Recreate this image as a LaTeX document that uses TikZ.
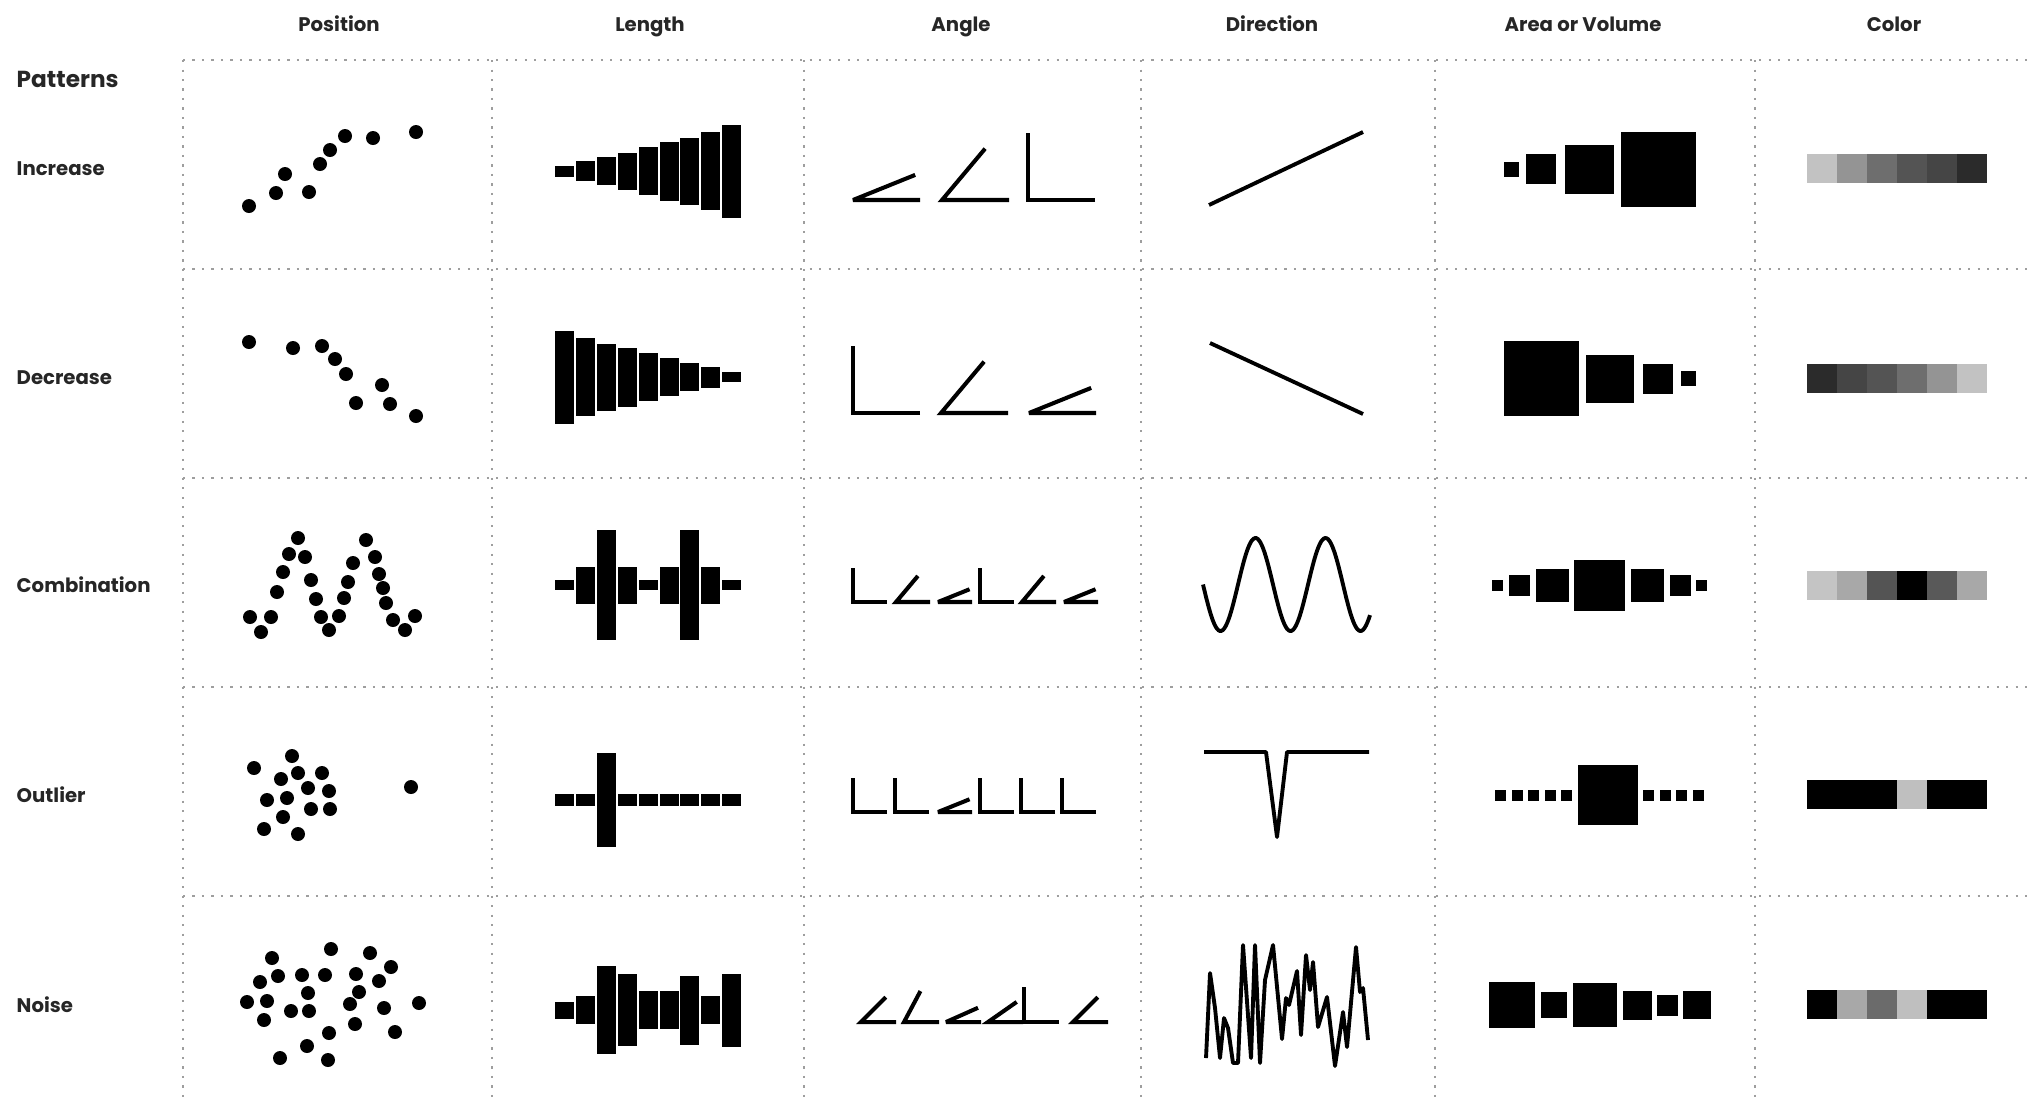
\documentclass[tikz,border=0pt]{standalone}
\usepackage{fontspec}
\setmainfont{Poppins}
\usepackage{xcolor}
\usepackage{tikz}
\usetikzlibrary{positioning}

\begin{document}
\begin{tikzpicture}[
  x=0.01cm, y=-0.01cm,
  head/.style={
    font=\bfseries\fontsize{5.6}{7}\selectfont,
    text=black!85,
    anchor=base,
    inner sep=0pt
  },
  rowlabel/.style={
    font=\bfseries\fontsize{5.6}{7}\selectfont,
    text=black!85,
    anchor=west,
    inner sep=0pt
  },
  gridline/.style={draw=black!38, line width=0.45pt, dash pattern=on 0.6pt off 2.1pt},
  angline/.style={line width=1.15pt, miter limit=4},
  dirline/.style={line width=1.1pt}
]
\useasboundingbox (0,0) rectangle (2031,1102);

% dotted grid
\foreach \gy in {60,269,478,687,896}
  \draw[gridline] (183,\gy) -- (2031,\gy);
\foreach \gx in {183,492,804,1141,1435,1755}
  \draw[gridline] (\gx,60) -- (\gx,1102);

% column heads
\node[head] (hpos) at (339,31) {Position};
\node[head] (hlen) at (650,31) {Length};
\node[head] (hang) at (961,31) {Angle};
\node[head] (hdir) at (1272,31) {Direction};
\node[head] (harea) at (1583,31) {Area or Volume};
\node[head] (hcol) at (1894,31) {Color};

% row labels
\node[rowlabel, font=\bfseries\fontsize{6.6}{8}\selectfont] (patterns) at (16,79) {Patterns};
\node[rowlabel] (rinc) at (16,169) {Increase};
\node[rowlabel] (rdec) at (16,378) {Decrease};
\node[rowlabel] (rcomb) at (16,585) {Combination};
\node[rowlabel] (rout) at (16,795) {Outlier};
\node[rowlabel] (rnoise) at (16,1005) {Noise};

% position
\foreach \px/\py in {249/206,276/193,285/174,309/192,320/164,330/150,345/136,373/138,416/132,
    249/342,293/348,322/346,335/359,346/374,382/385,356/403,390/404,416/416,
    250/617,271/617,261/632,277/592,283/572,289/554,298/538,305/557,311/580,316/599,321/617,329/630,
    339/616,344/598,348/582,353/563,366/540,375/557,379/574,383/588,386/603,393/620,405/630,415/616,
    254/768,292/756,281/779,298/773,322/773,308/788,329/791,267/800,287/798,311/809,330/809,283/817,
    264/829,298/834,411/787,
    272/958,331/949,370/953,391/967,260/982,278/976,302/975,325/975,356/974,379/981,308/993,359/992,
    247/1002,267/1001,291/1011,309/1011,350/1004,384/1008,419/1003,264/1020,355/1024,329/1033,
    395/1032,307/1046,280/1058,328/1060}
  \fill (\px,\py) circle[radius=7];

% length
\foreach \yc/\hs in {171/{5.5,10,14,18.5,24,29.5,33.5,39,46.5},
    377/{46.5,39,33.5,29.5,24,19,14,10.5,5},
    585/{5,18.5,55,18.5,5,18.5,55,18.5,5},
    800/{5.8,5.8,47,5.8,5.8,5.8,5.8,5.8,5.8},
    1010/{8.5,14,44,36,19,19,34.5,14,36.5}}
  \foreach \h [count=\i] in \hs
    \fill ({555+20.9*(\i-1)},{\yc-\h}) rectangle ++(19,{2*\h});

% angle
\foreach \ax/\aa in {853/22,942/50,1028/90}
  \draw[angline] ({\ax+67},200) -- (\ax,200) -- ++(\aa:0.67cm);
\foreach \ax/\aa in {853/90,941/50,1029/22}
  \draw[angline] ({\ax+67},413) -- (\ax,413) -- ++(\aa:0.67cm);
\foreach \ax/\aa in {853/90,896/50,938/22,980/90,1022/50,1064/22}
  \draw[angline] ({\ax+34},602) -- (\ax,602) -- ++(\aa:0.34cm);
\foreach \ax/\aa in {853/90,895/90,938/22,980/90,1021/90,1062/90}
  \draw[angline] ({\ax+34},812) -- (\ax,812) -- ++(\aa:0.34cm);
\foreach \ax/\aa in {861/45,904/62,946/24,988/35,1024/90,1073/45}
  \draw[angline] ({\ax+35},1022) -- (\ax,1022) -- ++(\aa:0.35cm);

% direction
\draw[dirline] (1209,205) -- (1363,132);
\draw[dirline] (1210,343) -- (1363,414);
\draw[dirline] plot[domain=1203:1370, samples=120, smooth] (\x,{584.5+46.5*sin((\x-1203)/70*360)});
\draw[dirline, line join=round] (1204,752) -- (1266,752) -- (1277,837) -- (1287,752) -- (1369,752);
\draw[dirline, line join=round] plot coordinates {(1206,1058) (1210,973) (1215,1008) (1220,1058)
    (1224,1018) (1228,1028) (1233,1063) (1238,1063) (1243,945) (1251,1058) (1255,945) (1260,1063)
    (1265,980) (1273,945) (1282,1039) (1286,998) (1289,1005) (1297,971) (1301,1035) (1306,955)
    (1310,990) (1313,962) (1318,1027) (1327,997) (1335,1066) (1343,1012) (1347,1047) (1356,947)
    (1360,992) (1363,988) (1368,1040)};

% area or volume
\foreach \yc/\sq in {169/{1504/15,1526/30,1565/49,1621/75},
    378.5/{1504/75,1586/48,1643/30,1681/15},
    585/{1492/11,1509/21,1536/33,1574/51,1631/33,1670/21,1696/11},
    795/{1495/11,1511.5/11,1528/11,1544.5/11,1561/11,1578/60,1643/11,1659.5/11,1676/11,1692.5/11},
    1005/{1489/46,1541/26,1573/44,1623/29,1657/21,1683/28}}
  \foreach \l/\s in \sq
    \fill (\l,{\yc-\s/2}) rectangle ++(\s,\s);

% color
\foreach \yc/\cl in {168.5/{24,42,57,67,73,83},
    378/{83,73,67,57,42,24},
    585/{23,34,67,100,65,34},
    794.5/{100,100,100,25,100,100},
    1004.5/{100,34,58,25,100,100}}
  \foreach \k [count=\i] in \cl
    \fill[black!\k] ({1807+30*(\i-1)},{\yc-14.5}) rectangle ++(30,29);

\end{tikzpicture}
\end{document}
